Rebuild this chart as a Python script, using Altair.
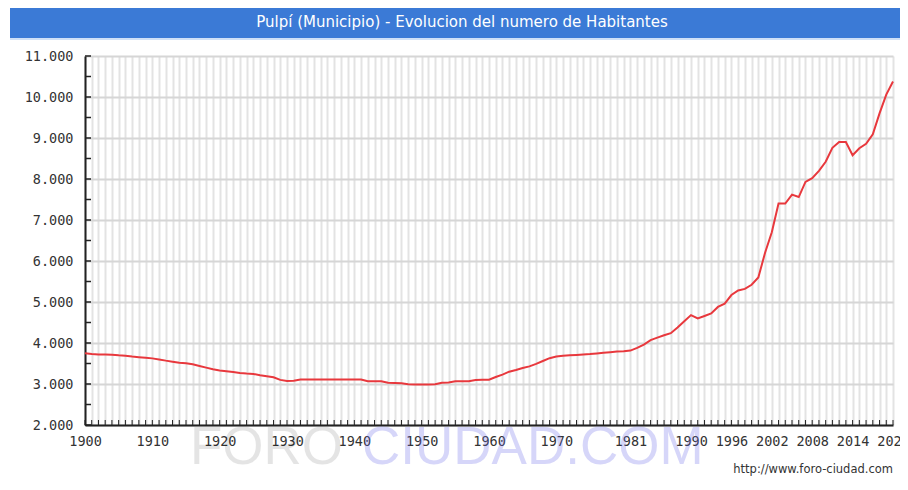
import altair as alt
import pandas as pd

TITLE = "Pulpí (Municipio) - Evolucion del numero de Habitantes"

years = list(range(1900, 2021))
population = [
    3750, 3730, 3720, 3720, 3715, 3700, 3690, 3670, 3655, 3640,   # 1900-1909
    3625, 3600, 3570, 3545, 3520, 3505, 3480, 3440, 3400, 3360,   # 1910-1919
    3330, 3310, 3290, 3270, 3255, 3245, 3215, 3190, 3165, 3100,   # 1920-1929
    3075, 3080, 3110, 3110, 3110, 3110, 3110, 3110, 3110, 3110,   # 1930-1939
    3110, 3110, 3070, 3070, 3065, 3030, 3025, 3020, 2995, 2990,   # 1940-1949
    2990, 2990, 2995, 3030, 3035, 3065, 3065, 3070, 3100, 3105,   # 1950-1959
    3105, 3170, 3230, 3300, 3340, 3390, 3430, 3490, 3560, 3630,   # 1960-1969
    3670, 3690, 3700, 3710, 3720, 3730, 3745, 3760, 3775, 3790,   # 1970-1979
    3800, 3815, 3880, 3960, 4070, 4130, 4190, 4240, 4380, 4530,   # 1980-1989
    4680, 4600, 4660, 4720, 4880, 4960, 5170, 5280, 5320, 5420,   # 1990-1999
    5600, 6200, 6700, 7400, 7400, 7620, 7560, 7930, 8020, 8200,   # 2000-2009
    8420, 8760, 8900, 8900, 8580, 8750, 8860, 9090, 9600, 10060,  # 2010-2019
    10380,                                                        # 2020
]
label_years = [1900, 1910, 1920, 1930, 1940, 1950, 1960, 1970, 1981,
               1990, 1996, 2002, 2008, 2014, 2020]
y_major = list(range(2000, 11001, 1000))
y_ticks = list(range(2000, 11001, 500))

W, H = 808, 369

df = pd.DataFrame({"year": years, "pop": population})
ticks_df = pd.DataFrame({"v": y_ticks})
years_df = pd.DataFrame({"year": years})

xscale = alt.Scale(domain=[1900, 2020], nice=False, zero=False)
yscale = alt.Scale(domain=[2000, 11000], nice=False, zero=False)

label_arr = "[" + ",".join(str(v) for v in label_years) + "]"

x_axis = alt.Axis(
    values=years, tickCount=len(years) + 10,
    grid=True, gridColor="#e3e3e3", gridWidth=2,
    ticks=False, tickSize=0, labelPadding=9, labelOverlap=False, labelFlush=False,
    labelExpr=f"indexof({label_arr}, datum.value) >= 0 ? format(datum.value, 'd') : ''",
    labelFont="DejaVu Sans Mono", labelFontSize=13.5, labelColor="#333333",
    domainColor="#222222", domainWidth=2, title=None,
)
y_axis = alt.Axis(
    values=y_major, tickCount=20, grid=True, gridColor="#d6d6d6", gridWidth=2,
    ticks=False, tickSize=0, labelPadding=12,
    labelExpr="replace(format(datum.value, ',d'), ',', '.')",
    labelFont="DejaVu Sans Mono", labelFontSize=13.5, labelColor="#333333",
    domainColor="#222222", domainWidth=2, title=None,
)

line = alt.Chart(df).mark_line(color="#e8383d", strokeWidth=2).encode(
    x=alt.X("year:Q", scale=xscale, axis=x_axis),
    y=alt.Y("pop:Q", scale=yscale, axis=y_axis),
)

xticks = alt.Chart(years_df).mark_rule(color="#222222", strokeWidth=1).encode(
    x=alt.X("year:Q", scale=xscale),
    y=alt.value(H - 5), y2=alt.value(H),
)
yticks = alt.Chart(ticks_df).mark_rule(color="#222222", strokeWidth=1.5).encode(
    y=alt.Y("v:Q", scale=yscale),
    x=alt.value(0), x2=alt.value(6),
)

tdf = pd.DataFrame({"t": [TITLE]})
title_bar = alt.Chart(tdf).mark_rect(color="#3b7ad6").encode(
    x=alt.value(-75), x2=alt.value(W + 10), y=alt.value(-48), y2=alt.value(-18)
)
title_line = alt.Chart(tdf).mark_rect(color="#cfe0f7").encode(
    x=alt.value(-75), x2=alt.value(W + 10), y=alt.value(-18), y2=alt.value(-16)
)
title_text = alt.Chart(tdf).mark_text(
    font="DejaVu Sans", fontSize=15, color="white", align="center", baseline="middle"
).encode(x=alt.value(377), y=alt.value(-34), text="t:N")

wm1 = alt.Chart(pd.DataFrame({"t": ["FORO"]})).mark_text(
    font="Liberation Sans", fontSize=53, color="#000000", opacity=0.1,
    align="left", baseline="alphabetic"
).encode(x=alt.value(105), y=alt.value(408), text="t:N")
wm2 = alt.Chart(pd.DataFrame({"t": ["CIUDAD.COM"]})).mark_text(
    font="Liberation Sans", fontSize=53, color="#6b6bea", opacity=0.27,
    align="left", baseline="alphabetic"
).encode(x=alt.value(277), y=alt.value(408), text="t:N")
url = alt.Chart(pd.DataFrame({"t": ["http://www.foro-ciudad.com"]})).mark_text(
    font="DejaVu Sans", fontSize=11.5, color="#333333", align="right", baseline="alphabetic"
).encode(x=alt.value(W), y=alt.value(417), text="t:N")

chart = alt.layer(
    line, xticks, yticks, wm1, wm2, url, title_bar, title_line, title_text
).properties(
    width=W, height=H,
    autosize=alt.AutoSizeParams(type="none"),
    padding={"left": 77, "top": 48, "right": 7, "bottom": 54},
    background="white",
).configure_view(stroke=None)

chart.save("out.html", embed_options={"renderer": "svg", "actions": False})
